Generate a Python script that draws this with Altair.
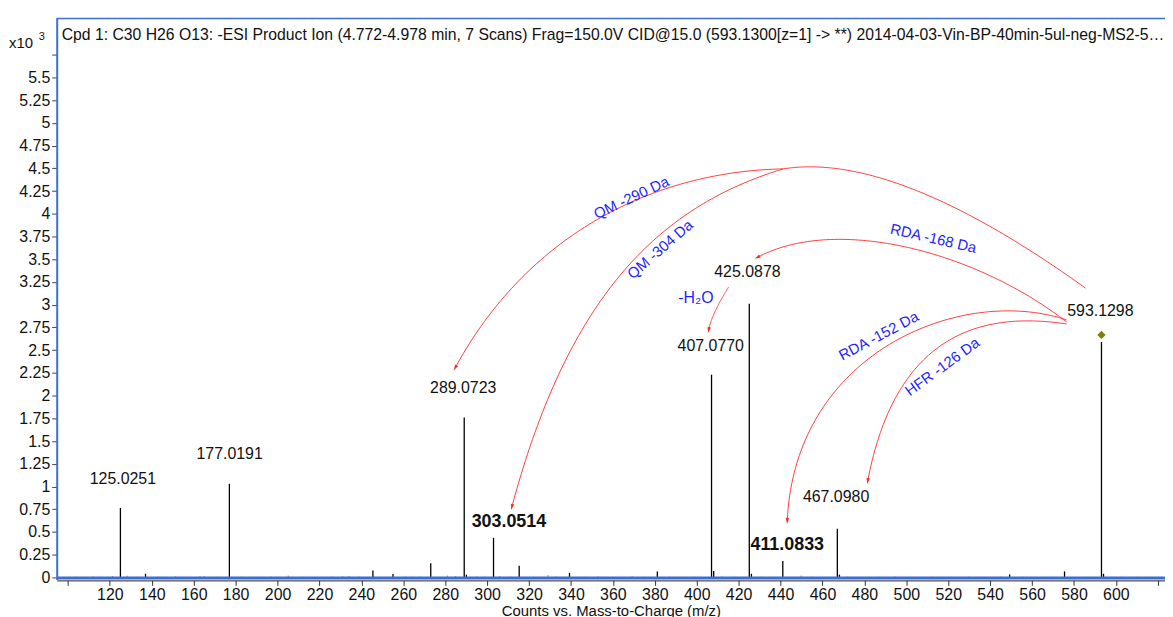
import altair as alt
import numpy as np
import pandas as pd

# ---------------- data (intensity in counts x10^3) ----------------
peak_mz = [125.0251, 137.0, 177.0191, 245.5, 255.1, 273.1, 289.0723, 290.1, 303.0514,
           315.3, 339.3, 381.2, 407.0770, 408.1, 425.0878, 426.1, 441.08, 467.0980,
           468.1, 549.3, 575.5, 593.1298, 594.1]
peak_int = [0.765, 0.04, 1.03, 0.076, 0.037, 0.155, 1.76, 0.03, 0.435,
            0.127, 0.05, 0.066, 2.23, 0.07, 3.01, 0.04, 0.18, 0.535,
            0.03, 0.033, 0.066, 2.59, 0.04]

noise_mz = [104, 108, 112, 121.2, 128.3, 133, 143, 151.4, 158, 163, 165, 171, 183, 190,
            197, 205.1, 212, 219, 226, 231, 234, 239, 261, 264, 268, 281, 285, 295, 299,
            306, 311, 322, 329, 333, 347, 353, 360, 369.2, 375, 387, 393, 399, 412, 418,
            431, 436, 449.8, 455, 472, 479, 487, 495, 503, 512, 521, 530, 538, 545, 556,
            562, 569, 583, 598, 603, 610]
noise_int = [0.008, 0.006, 0.01, 0.015, 0.018, 0.007, 0.009, 0.012, 0.006, 0.011, 0.014, 0.007, 0.009, 0.006,
             0.008, 0.02, 0.007, 0.006, 0.009, 0.012, 0.015, 0.008, 0.01, 0.007, 0.009, 0.02, 0.014, 0.011, 0.008,
             0.016, 0.009, 0.007, 0.025, 0.01, 0.008, 0.012, 0.006, 0.012, 0.007, 0.009, 0.006, 0.008, 0.011, 0.007,
             0.009, 0.006, 0.02, 0.008, 0.01, 0.006, 0.007, 0.009, 0.006, 0.008, 0.007, 0.009, 0.006, 0.008, 0.007,
             0.006, 0.008, 0.007, 0.006, 0.008, 0.007]

precursor_mz = [593.1298]
precursor_int = [2.668]

label_text = ["125.0251", "177.0191", "289.0723", "407.0770", "425.0878", "467.0980", "593.1298"]
label_mz = [126.2, 177.15, 288.6, 406.7, 424.2, 466.5, 592.6]
label_int = [1.083, 1.356, 2.078, 2.548, 3.357, 0.886, 2.931]

bold_text = ["303.0514", "411.0833"]
bold_mz = [310.4, 443.2]
bold_int = [0.612, 0.361]

loss_text = ["QM -290 Da", "QM -304 Da", "RDA -168 Da", "RDA -152 Da", "HFR -126 Da", "-H\u2082O"]
loss_mz = [368.8, 382.5, 512.9, 486.8, 517.2, 399.6]
loss_int = [4.177, 3.609, 3.729, 2.657, 2.318, 3.073]
loss_angle = [335, 319, 13, 332, 324, 0]
loss_size = [15, 15, 15, 15, 15, 16]

# arrow control points (m/z, intensity): start, ctrl1, ctrl2, end
arrow_x = [
    [585.5, 524.8, 476.7, 441.3],
    [441.3, 377.4, 318.4, 284.8],
    [441.3, 381.9, 338.8, 311.8],
    [576.5, 532.4, 466.0, 429.0],
    [576.5, 527.6, 447.0, 443.2],
    [576.5, 532.4, 494.4, 481.6],
    [415.2, 411.4, 407.2, 405.7],
]
arrow_y = [
    [3.182, 4.188, 4.625, 4.494],
    [4.494, 4.465, 3.736, 2.307],
    [4.494, 4.078, 3.098, 0.776],
    [2.810, 3.598, 3.980, 3.521],
    [2.832, 3.215, 2.504, 0.623],
    [2.788, 2.941, 2.613, 1.061],
    [3.193, 3.051, 2.887, 2.723],
]
arrow_head = [False, True, True, True, True, True, True]

title_text = ("Cpd 1: C30 H26 O13: -ESI Product Ion (4.772-4.978 min, 7 Scans) Frag=150.0V "
              "CID@15.0 (593.1300[z=1] -> **) 2014-04-03-Vin-BP-40min-5ul-neg-MS2-5\u2026")

# ---------------- layout ----------------
W, H = 1115, 565
XMIN, XMAX = 94.63, 623.44
YMIN, YMAX = -0.022, 6.156
FONT = "Liberation Sans"
BLUE_FRAME = "#3a6fd8"
RED = "#ff2b2b"
SX = W / (XMAX - XMIN)
SY = H / (YMAX - YMIN)

xs = alt.Scale(domain=[XMIN, XMAX], nice=False, zero=False)
ys = alt.Scale(domain=[YMIN, YMAX], nice=False, zero=False)

# bezier curves
t = np.linspace(0, 1, 80)
b = np.stack([(1 - t) ** 3, 3 * (1 - t) ** 2 * t, 3 * (1 - t) * t ** 2, t ** 3])
rows, heads = [], []
for i, (ax, ay) in enumerate(zip(arrow_x, arrow_y)):
    px = np.array(ax) @ b
    py = np.array(ay) @ b
    for k in range(len(t)):
        rows.append({"a": i, "o": k, "mz": px[k], "v": py[k]})
    if arrow_head[i]:
        dx = (ax[3] - ax[2]) * SX
        dys = -(ay[3] - ay[2]) * SY
        ang = float(np.degrees(np.arctan2(dx, -dys))) % 360
        heads.append({"mz": ax[3], "v": ay[3], "ang": ang})
arc_df = pd.DataFrame(rows)
head_df = pd.DataFrame(heads)

peaks = pd.DataFrame({"mz": peak_mz, "v": peak_int})
noise = pd.DataFrame({"mz": noise_mz, "v": noise_int})

x_axis = alt.Axis(values=list(range(100, 621, 20)), tickCount=60,
                  labelExpr="datum.value < 110 || datum.value > 610 ? '' : datum.label",
                  title="Counts vs. Mass-to-Charge (m/z)", grid=False,
                  domainColor="#222", domainWidth=1, tickColor="#333", tickSize=5,
                  labelFontSize=16, labelFont=FONT, labelColor="#111", labelPadding=1,
                  titleFont=FONT, titleFontSize=15, titleFontWeight="normal", titleColor="#111",
                  titleY=30, titleBaseline="middle", offset=1)
y_axis = alt.Axis(values=[i * 0.25 for i in range(24)], tickCount=60, labelOverlap=False,
                  labelExpr="datum.value > 5.6 ? '' : '' + datum.value",
                  title=None, grid=False, domainColor=BLUE_FRAME, domainWidth=2,
                  tickColor="#444", tickSize=5, labelFontSize=16, labelFont=FONT,
                  labelColor="#111", labelPadding=2)

noise_l = alt.Chart(noise).mark_rule(color="#888", strokeWidth=1).encode(
    x=alt.X("mz:Q", scale=xs, axis=x_axis), y=alt.Y("v:Q", scale=ys, axis=y_axis),
    y2=alt.datum(0))
peak_l = alt.Chart(peaks).mark_rule(color="#000", strokeWidth=1.3).encode(
    x=alt.X("mz:Q", scale=xs), y=alt.Y("v:Q", scale=ys), y2=alt.datum(0))

base_l = alt.Chart(pd.DataFrame({"k": [0]})).mark_rule(color=BLUE_FRAME, strokeWidth=3).encode(
    x=alt.value(0), x2=alt.value(W), y=alt.value(H - 1.5))
top_l = alt.Chart(pd.DataFrame({"k": [0]})).mark_rule(color=BLUE_FRAME, strokeWidth=1.5).encode(
    x=alt.value(0), x2=alt.value(W), y=alt.value(0.75))

prec_l = alt.Chart(pd.DataFrame({"mz": precursor_mz, "v": precursor_int})).mark_point(
    shape="diamond", filled=True, color="#808000", size=70, opacity=1).encode(
    x=alt.X("mz:Q", scale=xs), y=alt.Y("v:Q", scale=ys))

arc_l = alt.Chart(arc_df).mark_line(color=RED, strokeWidth=0.9).encode(
    x=alt.X("mz:Q", scale=xs), y=alt.Y("v:Q", scale=ys), detail="a:N", order="o:Q")
head_l = alt.Chart(head_df).mark_point(
    shape="M0,-1L0.55,0.9L-0.55,0.9Z", filled=True, color=RED, size=40, opacity=1).encode(
    x=alt.X("mz:Q", scale=xs), y=alt.Y("v:Q", scale=ys), angle=alt.Angle("ang:Q", scale=None))

lab_l = alt.Chart(pd.DataFrame({"t": label_text, "mz": label_mz, "v": label_int})).mark_text(
    font=FONT, fontSize=16, color="#111", baseline="middle", align="center").encode(
    x=alt.X("mz:Q", scale=xs), y=alt.Y("v:Q", scale=ys), text="t:N")
bold_l = alt.Chart(pd.DataFrame({"t": bold_text, "mz": bold_mz, "v": bold_int})).mark_text(
    font=FONT, fontSize=18, fontWeight="bold", color="#111", baseline="middle", align="center").encode(
    x=alt.X("mz:Q", scale=xs), y=alt.Y("v:Q", scale=ys), text="t:N")
loss_l = alt.Chart(pd.DataFrame({"t": loss_text, "mz": loss_mz, "v": loss_int,
                                 "ang": loss_angle, "fs": loss_size})).mark_text(
    font=FONT, color="#1f1fff", baseline="middle", align="center").encode(
    x=alt.X("mz:Q", scale=xs), y=alt.Y("v:Q", scale=ys), text="t:N",
    angle=alt.Angle("ang:Q", scale=None), size=alt.Size("fs:Q", scale=None, legend=None))

title_l = alt.Chart(pd.DataFrame({"t": [title_text]})).mark_text(
    font=FONT, fontSize=15.85, color="#111", baseline="middle", align="left").encode(
    x=alt.value(5), y=alt.value(17), text="t:N")
x10_l = alt.Chart(pd.DataFrame({"t": ["x10"]})).mark_text(
    font=FONT, fontSize=15, color="#111", baseline="middle", align="left").encode(
    x=alt.value(-48), y=alt.value(25), text="t:N")
exp_l = alt.Chart(pd.DataFrame({"t": ["3"]})).mark_text(
    font=FONT, fontSize=11, color="#111", baseline="middle", align="left").encode(
    x=alt.value(-18), y=alt.value(19), text="t:N")

chart = alt.layer(noise_l, peak_l, base_l, top_l, prec_l, arc_l, head_l, lab_l, bold_l,
                  loss_l, title_l, x10_l, exp_l).properties(
    width=W, height=H,
    autosize=alt.AutoSizeParams(type="none"),
    padding={"left": 49, "top": 8, "right": 0, "bottom": 44},
    background="white",
).configure_view(stroke=None)

chart.save("out.html", embed_options={"renderer": "svg", "actions": False})
